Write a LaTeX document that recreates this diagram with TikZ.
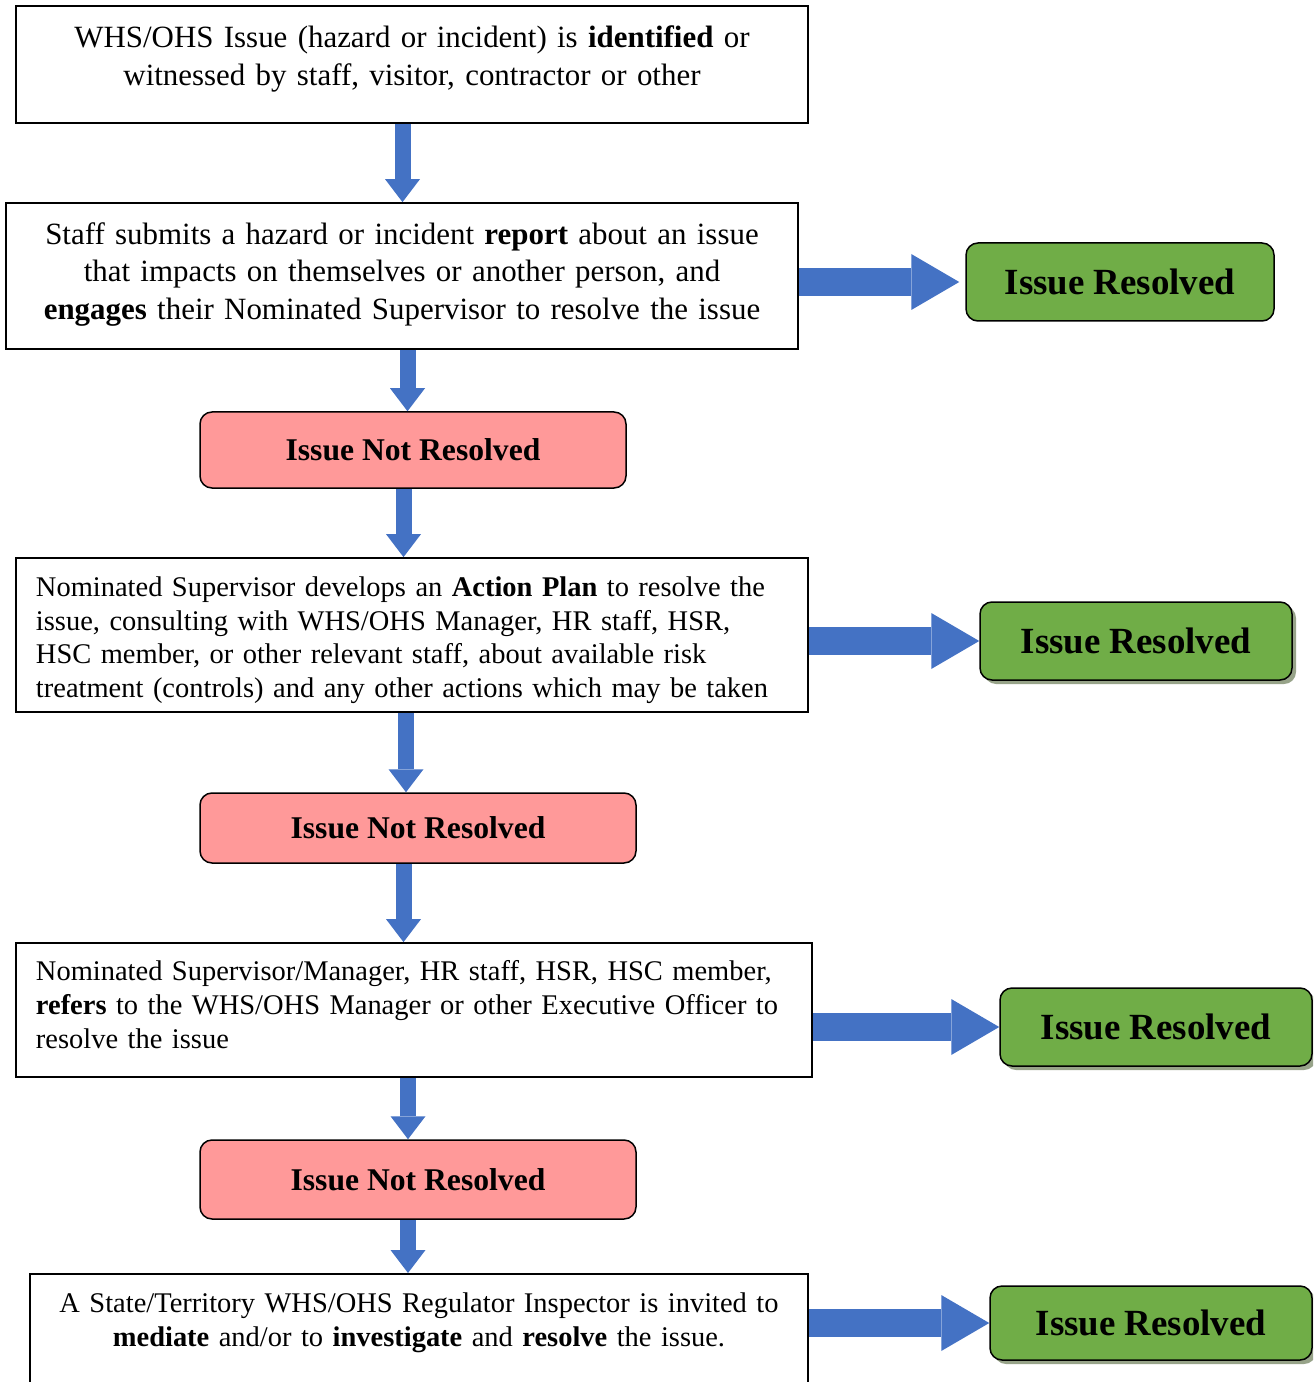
\documentclass[tikz,border=0pt]{standalone}
\usepackage{fontspec}
\setmainfont{Liberation Serif}
\usetikzlibrary{arrows.meta,shadows}
\definecolor{flowblue}{HTML}{4472C4}
\definecolor{okgreen}{HTML}{70AD47}
\definecolor{nopink}{HTML}{FF9999}
\definecolor{shade}{HTML}{97A389}

\begin{document}
\begin{tikzpicture}[x=0.2mm, y=-0.2mm,
  stepbox/.style={draw, line width=0.35mm, fill=white, inner xsep=4mm, inner ysep=1mm},
  bigtext/.style={font=\fontsize{17.6}{21.5}\selectfont, align=center},
  smalltext/.style={font=\fontsize{16.2}{19.2}\selectfont, align=left},
  okbox/.style={draw, line width=0.3mm, rounded corners=2.4mm, fill=okgreen,
    font=\fontsize{21}{25}\selectfont\bfseries, minimum width=61.6mm, minimum height=15.6mm},
  okshade/.style={okbox, drop shadow={shadow xshift=0.8mm, shadow yshift=-0.8mm, fill=shade, opacity=1}},
  nobox/.style={draw, line width=0.3mm, rounded corners=2.4mm, fill=nopink,
    font=\fontsize{18}{21}\selectfont\bfseries, minimum width=87.2mm, minimum height=14mm},
  downflow/.style={flowblue, line width=3.2mm, -{Triangle[width=7mm, length=4.6mm, line width=0pt]}},
  sideflow/.style={flowblue, line width=5.6mm, -{Triangle[width=11.2mm, length=9.6mm, line width=0pt]}}]
\useasboundingbox (0,0) rectangle (1313,1382);
\clip (0,0) rectangle (1313,1382);

\node[stepbox, bigtext, text width=150.4mm, minimum height=23.4mm] (identify) at (412,64.5)
  {WHS/OHS Issue (hazard or incident) is \textbf{identified} or\\
   witnessed by staff, visitor, contractor or other\rule[-3.4mm]{0pt}{0pt}};
\node[stepbox, bigtext, text width=150.4mm, minimum height=29.2mm] (report) at (402,276)
  {Staff submits a hazard or incident \textbf{report} about an issue\\
   that impacts on themselves or another person, and\\
   \textbf{engages} their Nominated Supervisor to resolve the issue\rule[-2mm]{0pt}{0pt}};
\node[nobox, minimum width=85.2mm, minimum height=15.2mm] (notres1) at (413,450) {Issue Not Resolved};
\node[stepbox, smalltext, text width=150.4mm, minimum height=30.8mm] (plan) at (412,635)
  {\rule{0pt}{6mm}Nominated Supervisor develops an \textbf{Action Plan} to resolve the\\
   issue, consulting with WHS/OHS Manager, HR staff, HSR,\\
   HSC member, or other relevant staff, about available risk\\
   treatment (controls) and any other actions which may be taken};
\node[nobox] (notres2) at (418,828) {Issue Not Resolved};
\node[stepbox, smalltext, text width=151.2mm, minimum height=26.8mm] (refer) at (414,1010)
  {Nominated Supervisor/Manager, HR staff, HSR, HSC member,\\
   \textbf{refers} to the WHS/OHS Manager or other Executive Officer to\\
   resolve the issue\rule[-2.2mm]{0pt}{0pt}};
\node[nobox, minimum height=15.8mm] (notres3) at (418,1179.5) {Issue Not Resolved};
\node[stepbox, smalltext, align=center, text width=147.6mm, minimum height=30mm, anchor=north] (regulator) at (419,1273)
  {A State/Territory WHS/OHS Regulator Inspector is invited to\\
   \textbf{mediate} and/or to \textbf{investigate} and \textbf{resolve} the issue.\rule[-11.8mm]{0pt}{0pt}};

\node[okbox] (res1) at (1120,282) {Issue Resolved};
\node[okshade, minimum width=62.4mm] (res2) at (1136,641) {Issue Resolved};
\node[okshade, minimum width=62.4mm] (res3) at (1156,1027) {Issue Resolved};
\node[okshade, minimum width=64.4mm, minimum height=14.8mm] (res4) at (1151,1323) {Issue Resolved};

\draw[downflow] (402.5,0 |- identify.south) -- (402.5,0 |- report.north);
\draw[downflow] (407.5,0 |- report.south) -- (407.5,0 |- notres1.north);
\draw[downflow] (403.5,0 |- notres1.south) -- (403.5,0 |- plan.north);
\draw[downflow] (406,0 |- plan.south) -- (406,0 |- notres2.north);
\draw[downflow] (403.5,0 |- notres2.south) -- (403.5,0 |- refer.north);
\draw[downflow] (408,0 |- refer.south) -- (408,0 |- notres3.north);
\draw[downflow] (408,0 |- notres3.south) -- (408,0 |- regulator.north);

\draw[sideflow] (report.east |- res1.west) -- ([xshift=-1.2mm]res1.west);
\draw[sideflow] (plan.east |- res2.west) -- (res2.west);
\draw[sideflow] (refer.east |- res3.west) -- (res3.west);
\draw[sideflow] (regulator.east |- res4.west) -- (res4.west);
\end{tikzpicture}
\end{document}
